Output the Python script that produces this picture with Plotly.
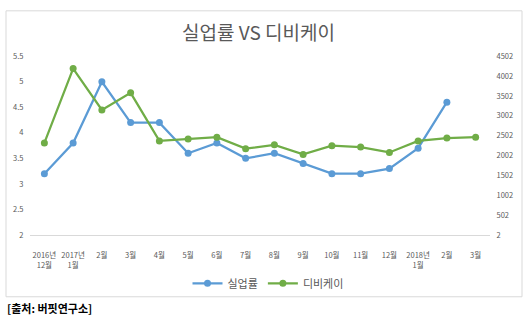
import plotly.graph_objects as go

# Monthly categories (Dec 2016 – Mar 2018)
months = ["2016년<br>12월", "2017년<br>1월", "2월", "3월", "4월", "5월", "6월", "7월",
          "8월", "9월", "10월", "11월", "12월", "2018년<br>1월", "2월", "3월"]

# 실업률 (%) – left axis
unemployment = [3.2, 3.8, 5.0, 4.2, 4.2, 3.6, 3.8, 3.5, 3.6, 3.4, 3.2, 3.2, 3.3, 3.7, 4.6, None]

# 디비케이 – right axis
dbk = [2320, 4190, 3150, 3580, 2370, 2420, 2465, 2175, 2270, 2030, 2250, 2215, 2080, 2370, 2440, 2465]

left_ticks = [2, 2.5, 3, 3.5, 4, 4.5, 5, 5.5]
right_ticks = [2, 502, 1002, 1502, 2002, 2502, 3002, 3502, 4002, 4502]

W, H = 530, 324
FONT = "Noto Sans CJK KR, Malgun Gothic, sans-serif"
GREY = "#595959"
BLUE = "#5B9BD5"
GREEN = "#70AD47"

x = list(range(len(months)))

fig = go.Figure()
fig.add_trace(go.Scatter(
    x=x, y=unemployment, name="실업률", mode="lines+markers",
    line=dict(color=BLUE, width=2.25), marker=dict(color=BLUE, size=7),
    connectgaps=False, yaxis="y"))
fig.add_trace(go.Scatter(
    x=x, y=dbk, name="디비케이", mode="lines+markers",
    line=dict(color=GREEN, width=2.25), marker=dict(color=GREEN, size=7),
    yaxis="y2"))

px = lambda v: v / W
py = lambda v: 1 - v / H

fig.update_layout(
    width=W, height=H,
    margin=dict(l=0, r=0, t=0, b=0),
    paper_bgcolor="white", plot_bgcolor="white",
    font=dict(family=FONT, color=GREY, size=8),
    showlegend=True,
    legend=dict(orientation="h", x=px(268), xanchor="center", y=py(287), yanchor="middle",
                font=dict(size=11, color=GREY), itemwidth=30, bgcolor="rgba(0,0,0,0)"),
    xaxis=dict(domain=[px(30), px(490)], range=[-0.5, len(months) - 0.5],
               tickmode="array", tickvals=x, ticktext=months,
               showgrid=False, zeroline=False, showline=True, linecolor="#D9D9D9", linewidth=1,
               ticks="outside", ticklen=13, tickcolor="rgba(0,0,0,0)",
               tickfont=dict(size=7.5, color=GREY), tickangle=0, fixedrange=True),
    yaxis=dict(domain=[py(237), py(52)], range=[2, 5.5], tickvals=left_ticks,
               ticktext=[f"{v:g}" for v in left_ticks],
               showgrid=False, zeroline=False, showline=False,
               ticks="outside", ticklen=4, tickcolor="rgba(0,0,0,0)",
               tickfont=dict(size=7.5, color=GREY)),
    yaxis2=dict(overlaying="y", side="right", anchor="x", range=[2, 4502], tickvals=right_ticks,
                ticktext=[str(v) for v in right_ticks],
                showgrid=False, zeroline=False, showline=False,
                ticks="outside", ticklen=4, tickcolor="rgba(0,0,0,0)",
                tickfont=dict(size=7.5, color=GREY)),
)

# Chart frame
fig.add_shape(type="rect", xref="paper", yref="paper",
              x0=px(6), x1=px(522), y0=py(301), y1=py(5),
              line=dict(color="#D9D9D9", width=1), fillcolor="rgba(0,0,0,0)", layer="below")

# Title
fig.add_annotation(text="실업률 VS 디비케이", xref="paper", yref="paper",
                   x=px(258), y=py(26), xanchor="center", yanchor="middle",
                   showarrow=False, font=dict(size=19, color=GREY, family=FONT))

# Source note
fig.add_annotation(text="<b>[출처: 버핏연구소]</b>", xref="paper", yref="paper",
                   x=px(5), y=py(313), xanchor="left", yanchor="middle",
                   showarrow=False, font=dict(size=11, color="black", family=FONT))

fig.write_html("out.html")
